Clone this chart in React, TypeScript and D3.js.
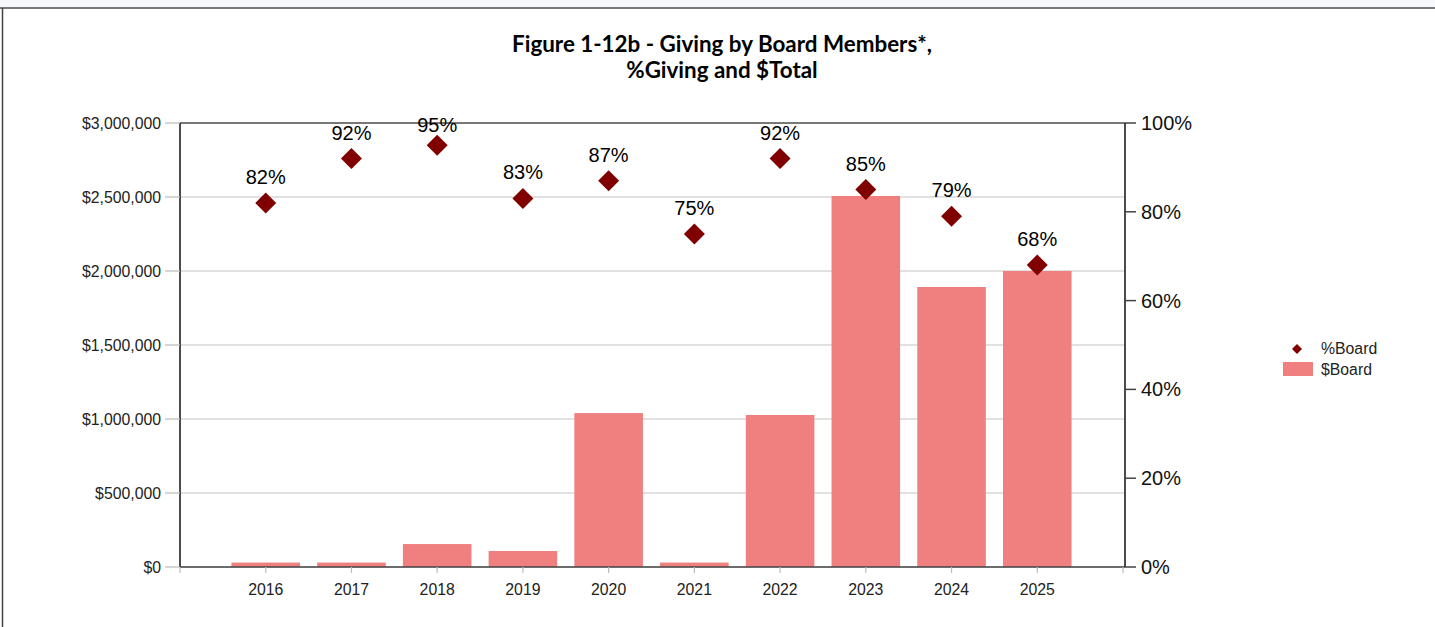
import React from "react";
import * as d3 from "d3";

const years = [2016, 2017, 2018, 2019, 2020, 2021, 2022, 2023, 2024, 2025];
const dollarBoard = [30000, 30000, 155000, 108000, 1040000, 30000, 1027000, 2507000, 1892000, 2000000];
const pctBoard = [82, 92, 95, 83, 87, 75, 92, 85, 79, 68];
const dollarTicks = [0, 500000, 1000000, 1500000, 2000000, 2500000, 3000000];
const pctTicks = [0, 20, 40, 60, 80, 100];
const titleLines = ["Figure 1-12b - Giving by Board Members*,", "%Giving and $Total"];
const legendLabels = ["%Board", "$Board"];

const W = 1435;
const H = 627;
const L = 180, R = 1125, T = 123, B = 567;
const BAR = "#F08080";
const DOT = "#800000";
const FONT = "'Liberation Sans', Arial, sans-serif";
const SMALL = 15.8;

export default function App() {
  const x = d3.scaleLinear().domain([2015, 2026]).range([L, R - 2]);
  const yL = d3.scaleLinear().domain([0, 3000000]).range([B, T]);
  const yR = d3.scaleLinear().domain([0, 100]).range([B, T]);
  const step = x(2017) - x(2016);
  const bw = step * 0.8;
  const fmt = (v: number) => "$" + d3.format(",")(v);
  const diamond = d3.symbol().type(d3.symbolSquare).size(220)();
  const legDiamond = d3.symbol().type(d3.symbolSquare).size(50)();

  return (
    <svg width={W} height={H} style={{ position: "absolute", left: 0, top: 0, background: "#fff" }}>
      <rect x={0} y={0} width={W} height={7} fill="#f6f8fd" />
      <line x1={0} x2={W} y1={8} y2={8} stroke="#7a7a7a" strokeWidth={2} />
      <line x1={2.5} x2={2.5} y1={8} y2={H} stroke="#444" strokeWidth={1.5} />

      {/* title */}
      <g fontFamily="Lato, 'Noto Sans', sans-serif" fontWeight={700} fontSize={22.4} textAnchor="middle" fill="#000">
        <text x={722} y={52}>{titleLines[0]}</text>
        <text x={722} y={78}>{titleLines[1]}</text>
      </g>

      {/* gridlines */}
      {dollarTicks.map((t) => (
        <line key={"g" + t} x1={L} x2={R} y1={yL(t)} y2={yL(t)} stroke="#c4c4c4" strokeWidth={1.2} />
      ))}

      {/* bars */}
      {years.map((yr, i) => (
        <rect key={"b" + yr} x={x(yr) - bw / 2} y={yL(dollarBoard[i])} width={bw} height={B - yL(dollarBoard[i])} fill={BAR} />
      ))}

      {/* frame */}
      <line x1={L} x2={R} y1={T} y2={T} stroke="#555" strokeWidth={1.5} />
      <line x1={L} x2={R} y1={B} y2={B} stroke="#444" strokeWidth={1.5} />
      <line x1={L} x2={L} y1={T} y2={B} stroke="#111" strokeWidth={1.5} />
      <line x1={R} x2={R} y1={T} y2={B} stroke="#111" strokeWidth={1.5} />

      {/* left axis */}
      <g fontFamily={FONT} fontSize={SMALL} fill="#222" textAnchor="end">
        {dollarTicks.map((t) => (
          <g key={"l" + t}>
            <line x1={165} x2={L} y1={yL(t)} y2={yL(t)} stroke="#bbb" strokeWidth={1.2} />
            <text x={161} y={yL(t)} dy="0.35em">{fmt(t)}</text>
          </g>
        ))}
      </g>

      {/* right axis */}
      <g fontFamily={FONT} fontSize={20} fill="#111" textAnchor="start">
        {pctTicks.map((t) => (
          <g key={"r" + t}>
            <line x1={R} x2={R + 11} y1={yR(t)} y2={yR(t)} stroke="#444" strokeWidth={1.5} />
            <text x={R + 16} y={yR(t)} dy="0.35em">{t + "%"}</text>
          </g>
        ))}
      </g>

      {/* x axis */}
      <g fontFamily={FONT} fontSize={SMALL} fill="#222" textAnchor="middle">
        <line x1={L} x2={L} y1={B} y2={B + 6} stroke="#bbb" strokeWidth={1.2} />
        {years.map((yr) => (
          <g key={"x" + yr}>
            <line x1={x(yr)} x2={x(yr)} y1={B} y2={B + 6} stroke="#bbb" strokeWidth={1.2} />
            <text x={x(yr)} y={B + 22} dy="0.35em">{yr}</text>
          </g>
        ))}
        <line x1={R - 2} x2={R - 2} y1={B} y2={B + 6} stroke="#bbb" strokeWidth={1.2} />
      </g>

      {/* points */}
      {years.map((yr, i) => {
        const py = yR(pctBoard[i]);
        return (
          <g key={"p" + yr}>
            <path d={diamond as string} transform={`translate(${x(yr)},${py}) rotate(45)`} fill={DOT} />
            <text x={x(yr)} y={Math.max(py - 19, T + 9)} fontFamily={FONT} fontSize={20} textAnchor="middle" fill="#000">
              {pctBoard[i] + "%"}
            </text>
          </g>
        );
      })}

      {/* legend */}
      <g fontFamily={FONT} fontSize={SMALL} fill="#222">
        <path d={legDiamond as string} transform="translate(1297,349) rotate(45)" fill={DOT} />
        <text x={1321} y={348} dy="0.35em">{legendLabels[0]}</text>
        <rect x={1283} y={362} width={30} height={14} fill={BAR} />
        <text x={1321} y={369} dy="0.35em">{legendLabels[1]}</text>
      </g>
    </svg>
  );
}
